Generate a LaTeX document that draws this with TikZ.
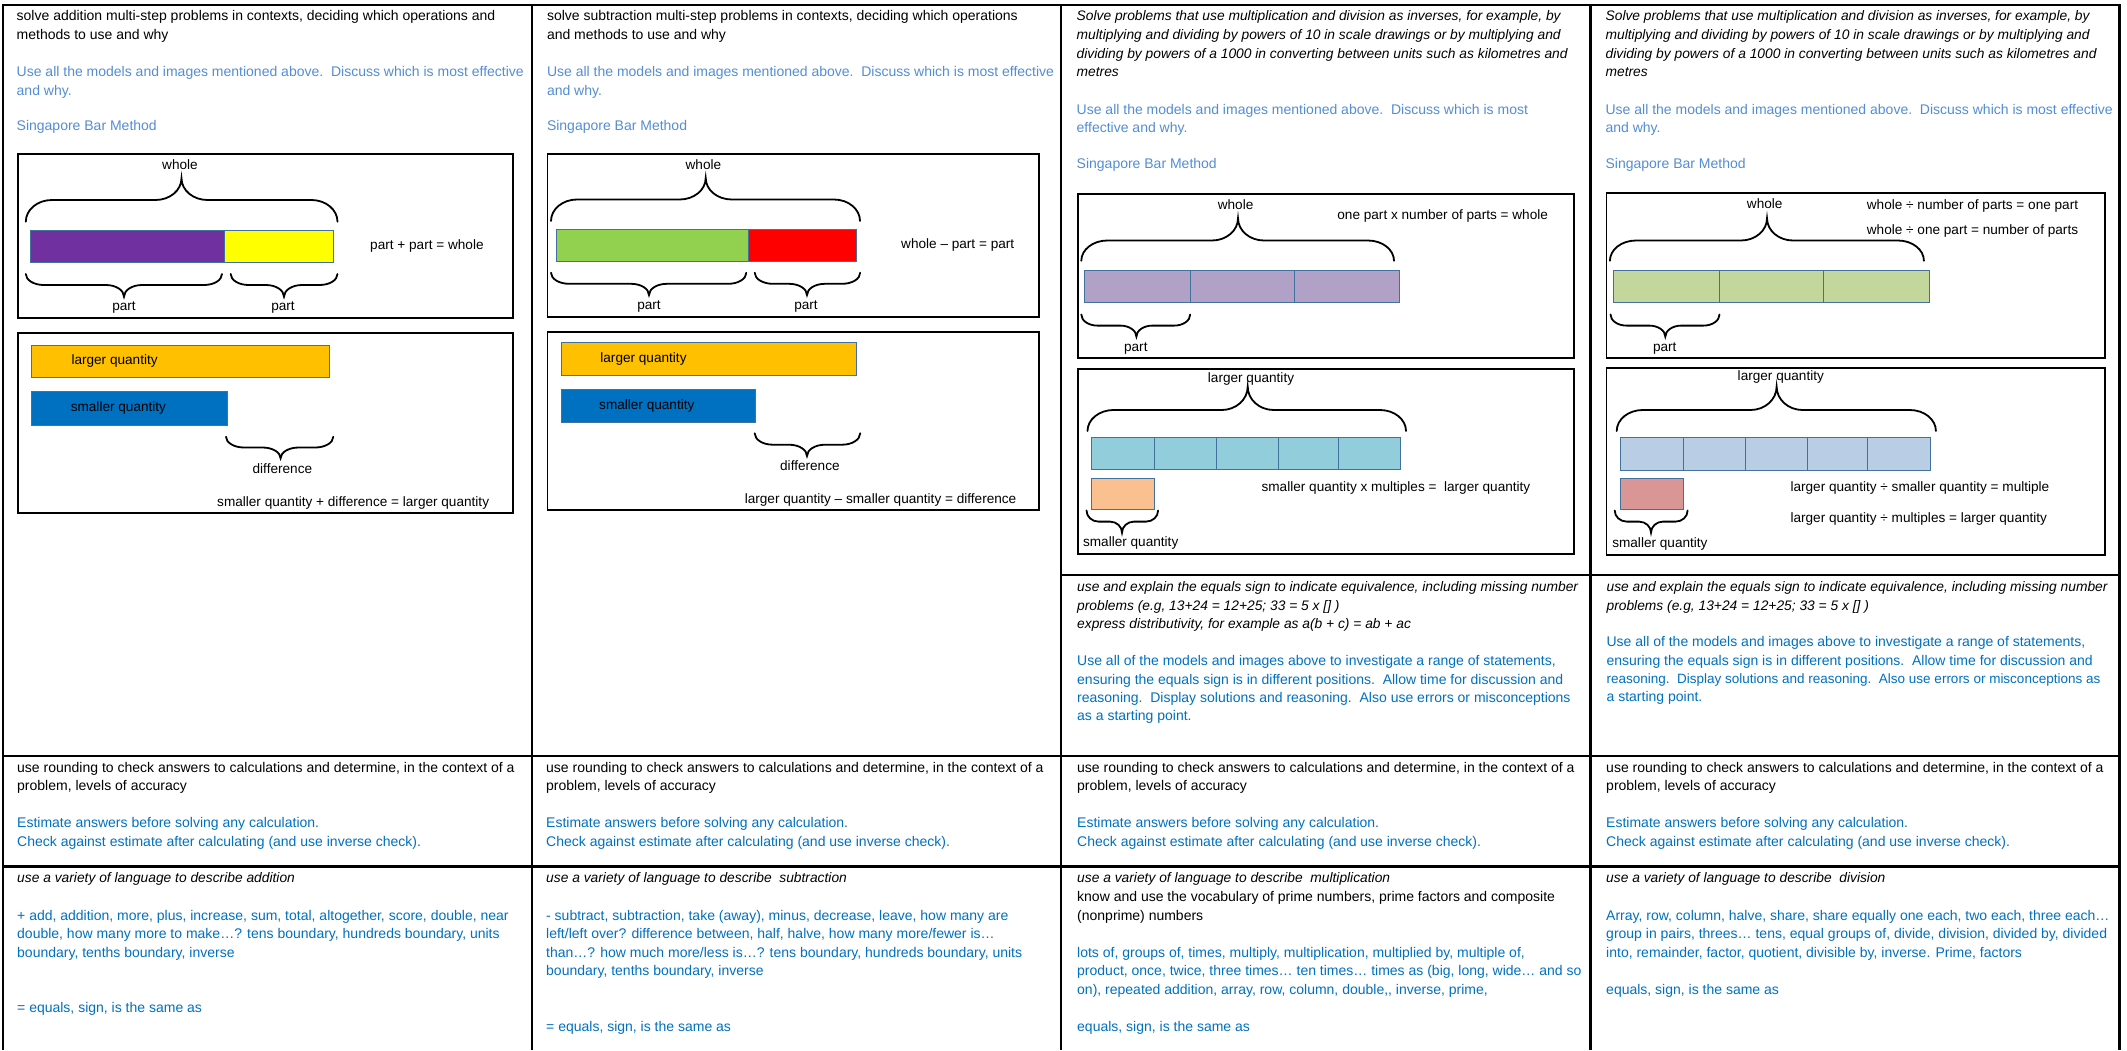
\documentclass[tikz,border=0pt]{standalone}
\usepackage{fontspec}
\setmainfont{Liberation Sans}
\definecolor{lblue}{RGB}{84,141,212}
\definecolor{dblue}{RGB}{0,112,192}
\definecolor{barline}{RGB}{65,113,156}
\definecolor{cpurple}{RGB}{112,48,160}
\definecolor{cyellow}{RGB}{255,255,0}
\definecolor{cgreen}{RGB}{146,208,80}
\definecolor{cred}{RGB}{255,0,0}
\definecolor{cgold}{RGB}{255,192,0}
\definecolor{cblue}{RGB}{0,112,192}
\definecolor{clav}{RGB}{178,161,199}
\definecolor{caqua}{RGB}{146,205,220}
\definecolor{cpeach}{RGB}{250,192,144}
\definecolor{csage}{RGB}{195,214,155}
\definecolor{csteel}{RGB}{185,205,229}
\definecolor{crose}{RGB}{217,150,148}
\newcommand\tx[5]{\node[txt,#4] (#1) at (#2,{#3+5}) {#5};}
\newcommand\cbrace[7]{%
 \draw[brc] (#1,#4) .. controls (#1,{#4+0.552*(#5-#4)}) and ({#1+0.448*#7},#5) .. ({#1+#7},#5)
  -- ({#3-#7},#5) .. controls ({#3-0.448*#7},#5) and (#3,{#6+0.552*(#5-#6)}) .. (#3,#6)
  .. controls (#3,{#6+0.552*(#5-#6)}) and ({#3+0.448*#7},#5) .. ({#3+#7},#5)
  -- ({#2-#7},#5) .. controls ({#2-0.448*#7},#5) and (#2,{#4+0.552*(#5-#4)}) .. (#2,#4);}
\begin{document}
\begin{tikzpicture}[x=1pt,y=-1pt,
  txt/.style={anchor=base west,inner sep=0pt,font=\fontsize{14}{16}\selectfont},
  it/.style={font=\fontsize{13.8}{16}\selectfont\itshape},
  narrow/.style={font=\fontsize{13.5}{16}\selectfont},
  lab/.style={inner sep=0pt,font=\fontsize{13.6}{15}\selectfont,text height=9.8pt,text depth=2.8pt},
  grid/.style={line width=2.6pt},
  frame/.style={line width=1.8pt},
  bar/.style={draw=barline,line width=0.9pt},
  brc/.style={line width=1.8pt,line cap=round}]
\fill[white] (0,0) rectangle (2127,1050);
\useasboundingbox (0,0) rectangle (2127,1050);
% ---------- grid ----------
\draw[grid] (3,1050) -- (3,5) -- (2119.5,5) -- (2119.5,1050);
\draw[grid] (532,5) -- (532,1050);
\draw[grid] (1061,5) -- (1061,1050);
\draw[grid] (1590.5,5) -- (1590.5,1050);
\draw[grid] (1061,575) -- (2119.5,575);
\draw[grid] (3,756) -- (2119.5,756);
\draw[grid] (3,866.7) -- (2119.5,866.7);
% ---------- column 1 ----------
\tx{c1l1}{16.5}{15.7}{}{solve addition multi-step problems in contexts, deciding which operations and}
\tx{c1l2}{16.5}{34.7}{}{methods to use and why}
\tx{c1b1}{16.5}{71.3}{lblue}{Use all the models and images mentioned above.\ \ Discuss which is most effective}
\tx{c1b2}{16.5}{90.3}{lblue}{and why.}
\tx{c1sb}{16.5}{125.3}{lblue}{Singapore Bar Method}
\draw[frame] (17.9,154) rectangle (513,318);
\node[lab] (c1wh) at (180,165.7) {whole};
\cbrace{25.8}{337.5}{181.5}{221.7}{200}{178.3}{26}
\filldraw[bar,fill=cpurple] (30.3,230) rectangle (224.9,262.7);
\filldraw[bar,fill=cyellow] (224.9,230) rectangle (333.3,262.7);
\node[lab,anchor=west] (c1eq) at (370,245.7) {part + part = whole};
\cbrace{25.8}{222}{124}{274}{285}{296.7}{18}
\cbrace{230.7}{337.5}{284}{274}{285}{296.7}{18}
\node[lab] (c1p1) at (124,307.3) {part};
\node[lab] (c1p2) at (283,307.3) {part};
\draw[frame] (17.9,333.3) rectangle (513,513.3);
\filldraw[bar,fill=cgold] (31.7,345) rectangle (329.5,377.7);
\node[lab,anchor=west] (c1lq) at (71.3,361) {larger quantity};
\filldraw[bar,fill=cblue] (31.7,391.7) rectangle (227.6,425);
\node[lab,anchor=west] (c1sq) at (70.6,408.3) {smaller quantity};
\cbrace{226}{333.3}{280.6}{436.7}{447.5}{458.3}{18}
\node[lab] (c1df) at (282.4,470) {difference};
\node[lab,anchor=west] (c1eq2) at (217,502.7) {smaller quantity + difference = larger quantity};
% ---------- column 2 ----------
\tx{c2l1}{546.8}{15.7}{}{solve subtraction multi-step problems in contexts, deciding which operations}
\tx{c2l2}{546.8}{34.7}{}{and methods to use and why}
\tx{c2b1}{546.8}{71.3}{lblue}{Use all the models and images mentioned above.\ \ Discuss which is most effective}
\tx{c2b2}{546.8}{90.3}{lblue}{and why.}
\tx{c2sb}{546.8}{125.3}{lblue}{Singapore Bar Method}
\draw[frame] (547.5,154) rectangle (1038.7,316.7);
\node[lab] (c2wh) at (703.4,165.7) {whole};
\cbrace{551}{860}{705.7}{221}{199.5}{178}{26}
\filldraw[bar,fill=cgreen] (556,229.3) rectangle (748.7,261.7);
\filldraw[bar,fill=cred] (748.7,229.3) rectangle (856.8,261.7);
\node[lab,anchor=west] (c2eq) at (901,245) {whole – part = part};
\cbrace{551}{746.3}{649}{272.7}{283.8}{295}{18}
\cbrace{754.7}{860.2}{807}{272.7}{283.8}{295}{18}
\node[lab] (c2p1) at (649,306) {part};
\node[lab] (c2p2) at (806,306) {part};
\draw[frame] (547.5,331.7) rectangle (1038.7,510);
\filldraw[bar,fill=cgold] (561,342.7) rectangle (856.8,375);
\node[lab,anchor=west] (c2lq) at (600.2,359) {larger quantity};
\filldraw[bar,fill=cblue] (561,389.3) rectangle (755.4,422.3);
\node[lab,anchor=west] (c2sq) at (599,406) {smaller quantity};
\cbrace{754.7}{860.2}{807}{433.3}{444.7}{456}{18}
\node[lab] (c2df) at (809.9,467.3) {difference};
\node[lab,anchor=west] (c2eq2) at (744.6,500) {larger quantity – smaller quantity = difference};
% ---------- column 3 ----------
\tx{c3l1}{1076.5}{15.5}{it}{Solve problems that use multiplication and division as inverses, for example, by}
\tx{c3l2}{1076.5}{34.4}{it}{multiplying and dividing by powers of 10 in scale drawings or by multiplying and}
\tx{c3l3}{1076.5}{53.6}{it}{dividing by powers of a 1000 in converting between units such as kilometres and}
\tx{c3l4}{1076.5}{71.4}{it}{metres}
\tx{c3b1}{1076.5}{109.1}{lblue}{Use all the models and images mentioned above.\ \ Discuss which is most}
\tx{c3b2}{1076.5}{127.6}{lblue}{effective and why.}
\tx{c3sb}{1076.5}{163.9}{lblue}{Singapore Bar Method}
\draw[frame] (1077.9,194.2) rectangle (1574.1,358.1);
\node[lab] (c3wh) at (1235.6,206) {whole};
\node[lab,anchor=west] (c3eq) at (1337.2,216.4) {one part x number of parts = whole};
\cbrace{1081.3}{1394}{1238}{260.8}{240.5}{218.3}{26}
\filldraw[bar,fill=clav] (1084.8,270) rectangle (1399.9,302.6);
\foreach \d in {1190.2,1294.2} \draw[bar] (\d,270) -- (\d,302.6);
\cbrace{1081.3}{1190.2}{1136.4}{314.5}{325.6}{336.7}{16}
\node[lab] (c3pt) at (1135.8,347.8) {part};
\draw[frame] (1077.9,369.2) rectangle (1574.1,553.8);
\node[lab] (c3lq) at (1251,378.5) {larger quantity};
\cbrace{1087.5}{1406}{1247.7}{431}{410}{386.6}{26}
\filldraw[bar,fill=caqua] (1091.7,437.7) rectangle (1400.9,469.8);
\foreach \d in {1154,1216,1278,1338.2} \draw[bar] (\d,437.7) -- (\d,469.8);
\filldraw[bar,fill=cpeach] (1091.7,478) rectangle (1154.4,509.4);
\cbrace{1086.5}{1158.1}{1122}{510.5}{521.6}{532.7}{12}
\node[lab] (c3sq) at (1130.7,543) {smaller quantity};
\node[lab,anchor=west] (c3eq2) at (1261.4,488.3) {smaller quantity x multiples =\ \ larger quantity};
% ---------- column 4 ----------
\tx{c4l1}{1605.4}{15.5}{it}{Solve problems that use multiplication and division as inverses, for example, by}
\tx{c4l2}{1605.4}{34.4}{it}{multiplying and dividing by powers of 10 in scale drawings or by multiplying and}
\tx{c4l3}{1605.4}{53.6}{it}{dividing by powers of a 1000 in converting between units such as kilometres and}
\tx{c4l4}{1605.4}{71.4}{it}{metres}
\tx{c4b1}{1605.4}{109.1}{lblue}{Use all the models and images mentioned above.\ \ Discuss which is most effective}
\tx{c4b2}{1605.4}{127.6}{lblue}{and why.}
\tx{c4sb}{1605.4}{163.9}{lblue}{Singapore Bar Method}
\draw[frame] (1606.4,193.1) rectangle (2104.7,358.1);
\node[lab] (c4wh) at (1764.7,205.3) {whole};
\node[lab,anchor=west] (c4eq) at (1866.7,206.1) {whole ÷ number of parts = one part};
\node[lab,anchor=west] (c4eqb) at (1866.7,230.5) {whole ÷ one part = number of parts};
\cbrace{1609.9}{1923.9}{1767}{260.8}{240.5}{218.3}{26}
\filldraw[bar,fill=csage] (1613.3,270) rectangle (1929.7,302.3);
\foreach \d in {1719.5,1823.6} \draw[bar] (\d,270) -- (\d,302.3);
\cbrace{1610.5}{1719.5}{1665.3}{314.5}{325.6}{336.7}{16}
\node[lab] (c4pt) at (1664.7,347.8) {part};
\draw[frame] (1606.4,368.1) rectangle (2104.7,555);
\node[lab] (c4lq) at (1780.8,377.4) {larger quantity};
\cbrace{1616.7}{1935.9}{1776.6}{431}{410}{386.6}{26}
\filldraw[bar,fill=csteel] (1620.8,437.7) rectangle (1930.8,470.6);
\foreach \d in {1683.2,1745.1,1807.5,1867.4} \draw[bar] (\d,437.7) -- (\d,470.6);
\filldraw[bar,fill=crose] (1620.8,478.4) rectangle (1683.2,509.8);
\cbrace{1614.7}{1687.6}{1651}{510.5}{521.6}{532.7}{12}
\node[lab] (c4sq) at (1659.9,543.8) {smaller quantity};
\node[lab,anchor=west] (c4eq2) at (1790.3,488.3) {larger quantity ÷ smaller quantity = multiple};
\node[lab,anchor=west] (c4eq3) at (1790.3,519) {larger quantity ÷ multiples = larger quantity};
% ---------- row A (cols 3,4) ----------
\tx{a3l1}{1077}{586.7}{it}{use and explain the equals sign to indicate equivalence, including missing number}
\tx{a3l2}{1077}{605}{it}{problems (e.g, 13+24 = 12+25; 33 = 5 x [] )}
\tx{a3l3}{1077}{623.3}{it}{express distributivity, for example as a(b + c) = ab + ac}
\tx{a3b1}{1077}{660}{dblue}{Use all of the models and images above to investigate a range of statements,}
\tx{a3b2}{1077}{679}{dblue}{ensuring the equals sign is in different positions.\ \ Allow time for discussion and}
\tx{a3b3}{1077}{697.3}{dblue}{reasoning.\ \ Display solutions and reasoning.\ \ Also use errors or misconceptions}
\tx{a3b4}{1077}{715.7}{dblue}{as a starting point.}
\tx{a4l1}{1606.4}{586.7}{it}{use and explain the equals sign to indicate equivalence, including missing number}
\tx{a4l2}{1606.4}{605}{it}{problems (e.g, 13+24 = 12+25; 33 = 5 x [] )}
\tx{a4b1}{1606.4}{641.7}{dblue}{Use all of the models and images above to investigate a range of statements,}
\tx{a4b2}{1606.4}{660}{dblue}{ensuring the equals sign is in different positions.\ \ Allow time for discussion and}
\tx{a4b3}{1606.4}{678.3}{dblue,narrow}{reasoning.\ \ Display solutions and reasoning.\ \ Also use errors or misconceptions as}
\tx{a4b4}{1606.4}{696.7}{dblue}{a starting point.}
% ---------- row B ----------
\foreach \xx/\k in {17/1,546/2,1077/3,1606/4}{
\tx{b\k l1}{\xx}{767.7}{}{use rounding to check answers to calculations and determine, in the context of a}
\tx{b\k l2}{\xx}{785.7}{}{problem, levels of accuracy}
\tx{b\k b1}{\xx}{822.7}{dblue}{Estimate answers before solving any calculation.}
\tx{b\k b2}{\xx}{841.7}{dblue}{Check against estimate after calculating (and use inverse check).}
}
% ---------- row C ----------
\tx{r1l1}{17}{877.7}{it}{use a variety of language to describe addition}
\tx{r1b1}{17}{915}{dblue}{+ add, addition, more, plus, increase, sum, total, altogether, score, double, near}
\tx{r1b2}{17}{933.7}{dblue}{double, how many more to make…? tens boundary, hundreds boundary, units}
\tx{r1b3}{17}{952.7}{dblue}{boundary, tenths boundary, inverse}
\tx{r1b4}{17}{1007.7}{dblue}{= equals, sign, is the same as}
\tx{r2l1}{546}{877.7}{it}{use a variety of language to describe\ \ subtraction}
\tx{r2b1}{546}{915}{dblue}{- subtract, subtraction, take (away), minus, decrease, leave, how many are}
\tx{r2b2}{546}{933.7}{dblue}{left/left over? difference between, half, halve, how many more/fewer is…}
\tx{r2b3}{546}{952.7}{dblue}{than…? how much more/less is…? tens boundary, hundreds boundary, units}
\tx{r2b4}{546}{970.7}{dblue}{boundary, tenths boundary, inverse}
\tx{r2b5}{546}{1026.7}{dblue}{= equals, sign, is the same as}
\tx{r3l1}{1077}{877.7}{it}{use a variety of language to describe\ \ multiplication}
\tx{r3l2}{1077}{896.7}{}{know and use the vocabulary of prime numbers, prime factors and composite}
\tx{r3l3}{1077}{915}{}{(nonprime) numbers}
\tx{r3b1}{1077}{952.3}{dblue}{lots of, groups of, times, multiply, multiplication, multiplied by, multiple of,}
\tx{r3b2}{1077}{970.7}{dblue}{product, once, twice, three times… ten times… times as (big, long, wide… and so}
\tx{r3b3}{1077}{989.3}{dblue}{on), repeated addition, array, row, column, double,{},{} inverse, prime,}
\tx{r3b4}{1077}{1026.7}{dblue}{equals, sign, is the same as}
\tx{r4l1}{1606}{877.7}{it}{use a variety of language to describe\ \ division}
\tx{r4b1}{1606}{915}{dblue}{Array, row, column, halve, share, share equally one each, two each, three each…}
\tx{r4b2}{1606}{933.7}{dblue}{group in pairs, threes… tens, equal groups of, divide, division, divided by, divided}
\tx{r4b3}{1606}{952.7}{dblue}{into, remainder, factor, quotient, divisible by, inverse. Prime, factors}
\tx{r4b4}{1606}{989.3}{dblue}{equals, sign, is the same as}
\end{tikzpicture}
\end{document}
